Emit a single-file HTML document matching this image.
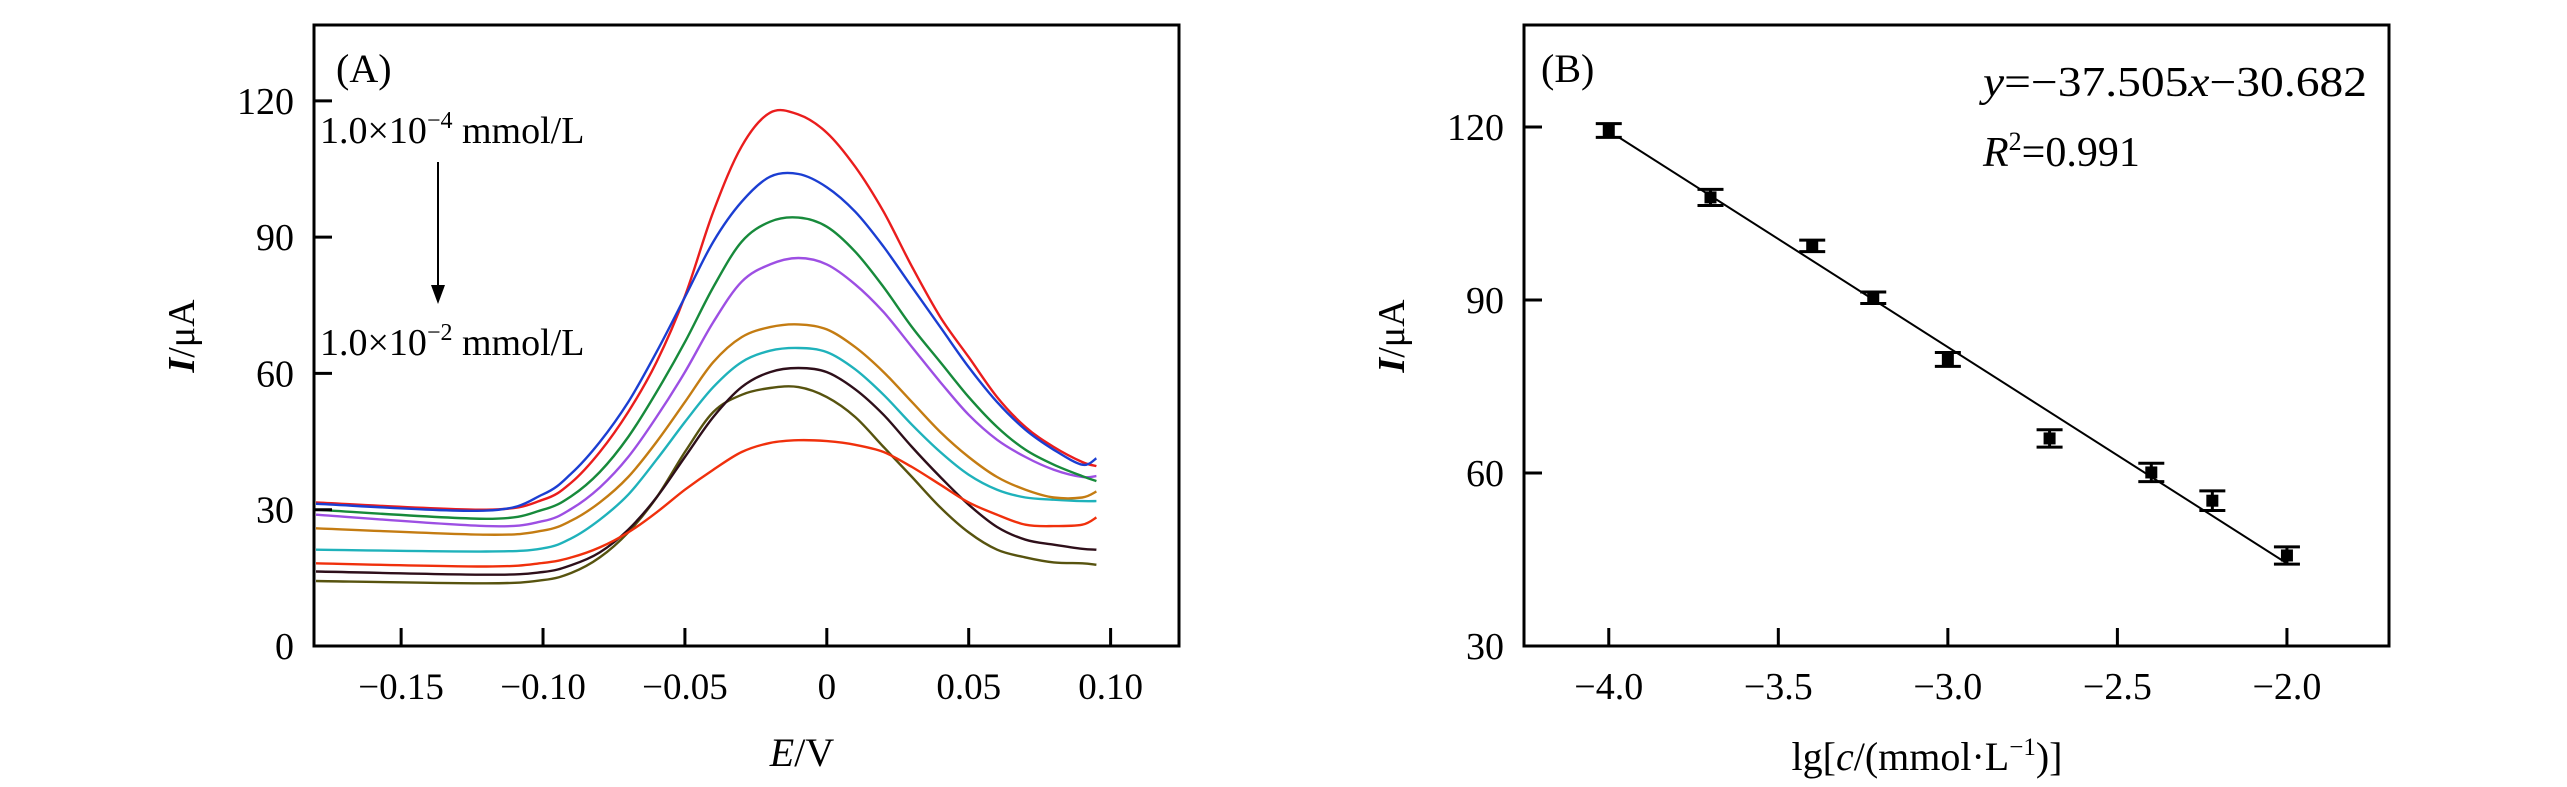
<!DOCTYPE html>
<html><head><meta charset="utf-8"><style>
html,body{margin:0;padding:0;background:#fff;}
svg{display:block;font-family:"Liberation Serif",serif;}
</style></head><body>
<svg id="fig" width="2567" height="787" viewBox="0 0 2567 787">
<g id="panelA"></g>
<g id="panelB"></g>
</svg>
<script>
// ---- Panel A data ----
const potentials = [-0.18,-0.12,-0.10,-0.09,-0.08,-0.07,-0.06,-0.05,-0.04,-0.03,-0.02,-0.01,0,0.01,0.02,0.03,0.04,0.05,0.06,0.07,0.08,0.09,0.095];
const curveRed1 = [31.6,30,32.2,36,42.7,51.5,62.5,77,95.6,110,117.4,117,113,105.5,95.6,83.5,72.4,63.6,54.8,48.2,43.8,40.5,39.6];
const curveBlue = [31.3,29.8,33.4,38.0,44.9,53.7,64.7,76.8,89,97.8,103.3,103.9,101,95.6,87.9,79,70.2,61.4,53.7,47.6,43.2,39.9,41.3];
const curveGreen = [30,28,30.0,33.0,38.3,46,55.9,66.9,79,89,93.4,94.3,92.3,86.8,79,70.2,62.5,54.8,48.2,43.2,39.9,37.4,36.3];
const curvePurple = [28.9,26.4,27.5,30.2,34.9,41.6,50.4,60.3,71.3,80.2,84,85.4,84,79.6,73.5,65.8,58.1,50.9,45.4,41.6,38.8,37.2,37.4];
const curveOrange = [25.9,24.5,25.4,27.6,31.6,37.2,44.9,53.7,62.5,68,70.2,70.8,69.7,65.8,60.3,53.7,47.1,41.6,37.2,34.4,32.7,32.7,34];
const curveCyan = [21.2,20.8,21.5,23.7,27.8,33.3,41,49.3,57,62.5,65,65.6,64.7,60.9,55.3,48.7,42.7,37.7,34.4,32.7,32.2,31.9,31.9];
const curveBlack = [16.4,15.7,16.3,17.8,20.6,25.6,32.7,41.6,50.4,57,60.3,61.2,60.3,56.5,50.9,43.8,37.2,31.1,26.2,23.4,22.3,21.4,21.2];
const curveOlive = [14.3,13.8,14.5,16.1,19.5,25,32.7,42.7,51.5,55.3,56.8,57,54.8,50.4,43.8,37.2,30.5,25,21.2,19.5,18.4,18.2,17.9];
const curveRed2 = [18.2,17.5,18.3,19.5,21.7,25,29.4,34.4,38.8,42.7,44.7,45.3,45.1,44.3,42.7,39.4,35.5,31.6,28.9,26.7,26.4,26.7,28.3];
const xTicksA = [-0.15,-0.10,-0.05,0,0.05,0.10];
const xTickLabelsA = ["\u22120.15","\u22120.10","\u22120.05","0","0.05","0.10"];
const yTicksA = [0,30,60,90,120];
// ---- Panel B data ----
const logConc = [-4.0,-3.7,-3.4,-3.22,-3.0,-2.7,-2.4,-2.22,-2.0];
const currents = [119.4,107.8,99.4,90.4,79.7,66.0,60.1,55.2,45.7];
const errors = [1.2,1.4,1.0,1.0,1.2,1.5,1.6,1.7,1.5];
const fitSlope = -37.505, fitIntercept = -30.682, fitRange = [-3.97,-2.0];
const xTicksB = [-4.0,-3.5,-3.0,-2.5,-2.0];
const xTickLabelsB = ["\u22124.0","\u22123.5","\u22123.0","\u22122.5","\u22122.0"];
const yTicksB = [30,60,90,120];

const NS="http://www.w3.org/2000/svg";
function mk(parent,tag,attrs,text){const e=document.createElementNS(NS,tag);for(const k in attrs)e.setAttribute(k,attrs[k]);if(text!==undefined)e.textContent=text;parent.appendChild(e);return e;}

// ---- Panel A ----
const A=document.getElementById('panelA');
const aL=314,aR=1179,aT=25,aB=646;
const axA={x0:-0.1807,x1:0.1241,y0:0,y1:136.7};
const sxA=v=>aL+(v-axA.x0)/(axA.x1-axA.x0)*(aR-aL);
const syA=v=>aB-(v-axA.y0)/(axA.y1-axA.y0)*(aB-aT);
function smoothPath(xs,ys){
  const p=xs.map((x,i)=>[x,ys[i]]);
  let d=`M${p[0][0].toFixed(1)},${p[0][1].toFixed(1)}`;
  for(let i=0;i<p.length-1;i++){
    const p0=p[Math.max(0,i-1)],p1=p[i],p2=p[i+1],p3=p[Math.min(p.length-1,i+2)];
    const c1=[p1[0]+(p2[0]-p0[0])/6,p1[1]+(p2[1]-p0[1])/6];
    const c2=[p2[0]-(p3[0]-p1[0])/6,p2[1]-(p3[1]-p1[1])/6];
    d+=` C${c1[0].toFixed(1)},${c1[1].toFixed(1)} ${c2[0].toFixed(1)},${c2[1].toFixed(1)} ${p2[0].toFixed(1)},${p2[1].toFixed(1)}`;
  }
  return d;
}
const series=[
 ['curve-olive',curveOlive,'#57530f'],
 ['curve-black',curveBlack,'#2e0f1a'],
 ['curve-red-low',curveRed2,'#f0300c'],
 ['curve-cyan',curveCyan,'#1fb2bb'],
 ['curve-orange',curveOrange,'#c47c12'],
 ['curve-purple',curvePurple,'#9d4fe3'],
 ['curve-green',curveGreen,'#178a3b'],
 ['curve-red-high',curveRed1,'#ea1d1d'],
 ['curve-blue',curveBlue,'#1b3ed2']
];
series.forEach(([name,vals,col])=>{
  const el=mk(A,'path',{d:smoothPath(potentials.map(sxA),vals.map(syA)),fill:'none',stroke:col,'stroke-width':2.4});
  
  
});
const frameA=mk(A,'rect',{x:aL,y:aT,width:aR-aL,height:aB-aT,fill:'none',stroke:'#000','stroke-width':3});


xTicksA.forEach((v,i)=>{
  const t=mk(A,'line',{x1:sxA(v),x2:sxA(v),y1:aB,y2:aB-18,stroke:'#000','stroke-width':3});
  
  
  const l=mk(A,'text',{x:sxA(v),y:699,'font-size':37,'text-anchor':'middle'},xTickLabelsA[i]);
  
  
});
yTicksA.forEach(v=>{
  const t=mk(A,'line',{x1:aL,x2:aL+18,y1:syA(v),y2:syA(v),stroke:'#000','stroke-width':3});
  
  
  const l=mk(A,'text',{x:294,y:syA(v)+13,'font-size':38,'text-anchor':'end'},String(v));
  
  
});

// ---- Panel B ----
const B=document.getElementById('panelB');
const bL=1524,bR=2389,bT=25,bB=646;
const axB={x0:-4.25,x1:-1.699,y0:30,y1:137.7};
const sxB=v=>bL+(v-axB.x0)/(axB.x1-axB.x0)*(bR-bL);
const syB=v=>bB-(v-axB.y0)/(axB.y1-axB.y0)*(bB-bT);
const fit=mk(B,'line',{x1:sxB(fitRange[0]),y1:syB(fitSlope*fitRange[0]+fitIntercept),x2:sxB(fitRange[1]),y2:syB(fitSlope*fitRange[1]+fitIntercept),stroke:'#000','stroke-width':2});


logConc.forEach((x,i)=>{
  const cx=sxB(x),cy=syB(currents[i]),yt=syB(currents[i]+errors[i]),yb=syB(currents[i]-errors[i]);
  const g=mk(B,'g',{});
  
  
  mk(g,'line',{x1:cx,x2:cx,y1:yt,y2:yb,stroke:'#000','stroke-width':3});
  mk(g,'line',{x1:cx-13,x2:cx+13,y1:yt,y2:yt,stroke:'#000','stroke-width':3});
  mk(g,'line',{x1:cx-13,x2:cx+13,y1:yb,y2:yb,stroke:'#000','stroke-width':3});
  mk(g,'rect',{x:cx-6,y:cy-6,width:12,height:12,fill:'#000'});
});
const frameB=mk(B,'rect',{x:bL,y:bT,width:bR-bL,height:bB-bT,fill:'none',stroke:'#000','stroke-width':3});


xTicksB.forEach((v,i)=>{
  const t=mk(B,'line',{x1:sxB(v),x2:sxB(v),y1:bB,y2:bB-18,stroke:'#000','stroke-width':3});
  
  
  const l=mk(B,'text',{x:sxB(v),y:699,'font-size':38,'text-anchor':'middle'},xTickLabelsB[i]);
  
  
});
yTicksB.forEach(v=>{
  const t=mk(B,'line',{x1:bL,x2:bL+18,y1:syB(v),y2:syB(v),stroke:'#000','stroke-width':3});
  
  
  const l=mk(B,'text',{x:1504,y:syB(v)+13,'font-size':38,'text-anchor':'end'},String(v));
  
  
});
</script>
<svg style="position:absolute;left:0;top:0" width="2567" height="787" font-family="Liberation Serif, serif">
  <text x="336" y="82" font-size="40">(A)</text>
  <text x="320" y="143" font-size="38">1.0×10<tspan dy="-15" font-size="24">−4</tspan><tspan dy="15"> mmol/L</tspan></text>
  <line x1="438" y1="162" x2="438" y2="292" stroke="#000" stroke-width="2"/>
  <polygon points="431,285 445,285 438,304" fill="#000"/>
  <text x="320" y="355" font-size="38">1.0×10<tspan dy="-15" font-size="24">−2</tspan><tspan dy="15"> mmol/L</tspan></text>
  <text x="802" y="766" font-size="40" text-anchor="middle"><tspan font-style="italic">E</tspan>/V</text>
  <text transform="translate(194,336) rotate(-90)" font-size="38" text-anchor="middle"><tspan font-style="italic" font-weight="bold">I</tspan>/μA</text>
  <text x="1541" y="82" font-size="40">(B)</text>
  <text x="1983" y="96" font-size="42" textLength="384" lengthAdjust="spacingAndGlyphs"><tspan font-style="italic">y</tspan>=−37.505<tspan font-style="italic">x</tspan>−30.682</text>
  <text x="1983" y="166" font-size="42"><tspan font-style="italic">R</tspan><tspan dy="-16" font-size="26">2</tspan><tspan dy="16">=0.991</tspan></text>
  <text x="1927" y="770" font-size="40" text-anchor="middle">lg[<tspan font-style="italic">c</tspan>/(mmol·L<tspan dy="-15" font-size="25">−1</tspan><tspan dy="15">)]</tspan></text>
  <text transform="translate(1404,336) rotate(-90)" font-size="38" text-anchor="middle"><tspan font-style="italic" font-weight="bold">I</tspan>/μA</text>
</svg>
</body></html>
